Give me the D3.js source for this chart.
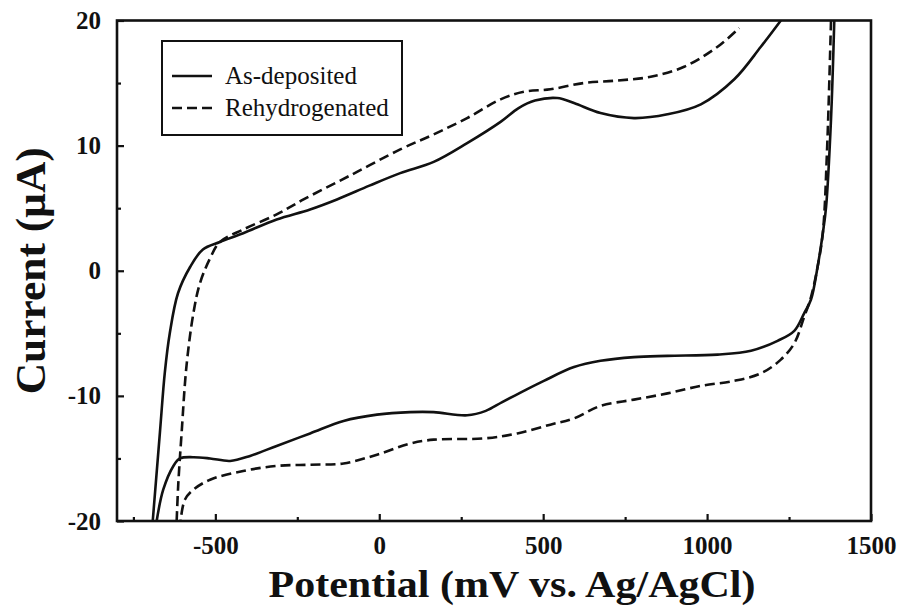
<!DOCTYPE html>
<html>
<head>
<meta charset="utf-8">
<script src="https://cdn.jsdelivr.net/npm/d3@7"></script>
<style>
  html, body { margin: 0; padding: 0; background: #fff; }
  svg { display: block; }
  text { font-family: "Liberation Serif", "Times New Roman", serif; fill: #111; }
</style>
</head>
<body>
<svg id="chart" width="901" height="606"></svg>
<script>
// Cyclic voltammograms: [potential (mV vs. Ag/AgCl), current (µA)]
const asDepositedAnodic = [
  [-691, -20], [-669, -12.9], [-654, -8.1], [-639, -5.0], [-614, -1.8], [-577, 0.3],
  [-538, 1.7], [-486, 2.3], [-415, 3.0], [-313, 4.1], [-211, 4.9], [-129, 5.7],
  [-30, 6.8], [64, 7.8], [166, 8.7], [268, 10.2], [370, 11.9], [425, 13.0], [475, 13.6],
  [543, 13.8], [594, 13.4], [675, 12.6], [777, 12.2], [879, 12.5], [981, 13.3],
  [1083, 15.3], [1164, 17.9], [1225, 20]
];
const asDepositedCathodic = [
  [1388, 20], [1378, 12.1], [1363, 5.1], [1353, 3.0], [1337, 0.3], [1317, -2.3],
  [1296, -3.4], [1266, -4.8], [1215, -5.6], [1134, -6.4], [1032, -6.7], [879, -6.8],
  [777, -6.9], [675, -7.2], [594, -7.7], [502, -8.8], [441, -9.6], [375, -10.5],
  [325, -11.2], [268, -11.55], [166, -11.3], [94, -11.3], [-7, -11.5], [-109, -12.0],
  [-211, -13.0], [-313, -14.0], [-394, -14.8], [-455, -15.2], [-516, -15.0],
  [-567, -14.9], [-608, -15.0], [-628, -15.6], [-659, -17.5], [-679, -20]
];
const rehydrogenatedAnodic = [
  [-618, -20], [-613, -17.0], [-603, -13.0], [-588, -7.6], [-567, -3.4], [-547, -1.0],
  [-516, 1.0], [-486, 2.3], [-415, 3.3], [-313, 4.5], [-231, 5.7], [-90, 7.6],
  [64, 9.7], [166, 10.9], [268, 12.2], [370, 13.7], [441, 14.3], [522, 14.5],
  [624, 15.0], [726, 15.2], [828, 15.5], [930, 16.3], [1032, 17.9], [1098, 19.4]
];
const rehydrogenatedCathodic = [
  [1378, 20], [1366, 9.7], [1353, 3.0], [1337, 0.3], [1317, -2.1], [1296, -3.7],
  [1266, -5.8], [1225, -7.1], [1164, -8.2], [1083, -8.8], [981, -9.2], [879, -9.8],
  [777, -10.3], [675, -10.8], [594, -11.8], [522, -12.3], [421, -13.0], [319, -13.4],
  [166, -13.5], [95, -13.8], [-7, -14.7], [-109, -15.4], [-211, -15.5], [-313, -15.6],
  [-415, -16.0], [-516, -16.7], [-567, -17.5], [-593, -18.3], [-606, -20]
];

const seriesNames = ["As-deposited", "Rehydrogenated"];
const xMajorTicks = [-500, 0, 500, 1000, 1500];
const xMinorTicks = [-750, -250, 250, 750, 1250];
const yMajorTicks = [-20, -10, 0, 10, 20];
const yMinorTicks = [-15, -5, 5, 15];
const xTitle = "Potential (mV vs. Ag/AgCl)";
const yTitle = "Current (\u03BCA)";

const W = 901, H = 606;
const margin = { left: 117, right: 30, top: 20.5, bottom: 85 };
const plotW = W - margin.left - margin.right;
const plotH = H - margin.top - margin.bottom;

const svg = d3.select("#chart");
const g = svg.append("g").attr("transform", `translate(${margin.left},${margin.top})`);

const x = d3.scaleLinear().domain([-800, 1500]).range([0, plotW]);
const y = d3.scaleLinear().domain([-20, 20]).range([plotH, 0]);

svg.append("defs").append("clipPath").attr("id", "plot-clip")
  .append("rect").attr("x", 0).attr("y", -1).attr("width", plotW).attr("height", plotH + 2);

// Curves
const line = d3.line()
  .x(d => x(d[0]))
  .y(d => y(d[1]))
  .curve(d3.curveCatmullRom.alpha(0.5));

const curves = g.append("g").attr("clip-path", "url(#plot-clip)");
[asDepositedAnodic, asDepositedCathodic].forEach(data => {
  curves.append("path").attr("d", line(data))
    .attr("fill", "none").attr("stroke", "#111").attr("stroke-width", 2.6)
    .attr("stroke-linejoin", "round");
});
[rehydrogenatedAnodic, rehydrogenatedCathodic].forEach(data => {
  curves.append("path").attr("d", line(data))
    .attr("fill", "none").attr("stroke", "#111").attr("stroke-width", 2.6)
    .attr("stroke-dasharray", "10,5");
});

// Axes (ticks point inward)
const tickFont = 25;
function styleAxis(sel) {
  sel.select(".domain").remove();
  sel.selectAll(".tick line").attr("stroke", "#111").attr("stroke-width", 2.2);
  sel.selectAll(".tick text")
    .attr("font-size", tickFont).attr("font-weight", "bold")
    .attr("font-family", "'Liberation Serif', 'Times New Roman', serif").attr("fill", "#111");
}

g.append("g").attr("transform", `translate(0,${plotH})`)
  .call(d3.axisBottom(x).tickValues(xMinorTicks).tickSizeInner(-4).tickSizeOuter(0).tickFormat(""))
  .call(styleAxis);
g.append("g").attr("transform", `translate(0,${plotH})`)
  .call(d3.axisBottom(x).tickValues(xMajorTicks).tickSizeInner(-7).tickSizeOuter(0)
    .tickPadding(15).tickFormat(d => String(d)))
  .call(styleAxis);

g.append("g")
  .call(d3.axisLeft(y).tickValues(yMinorTicks).tickSizeInner(-4).tickSizeOuter(0).tickFormat(""))
  .call(styleAxis);
g.append("g")
  .call(d3.axisLeft(y).tickValues(yMajorTicks).tickSizeInner(-7).tickSizeOuter(0)
    .tickPadding(16).tickFormat(d => String(d)))
  .call(styleAxis);

// Frame
g.append("rect").attr("x", 0).attr("y", 0).attr("width", plotW).attr("height", plotH)
  .attr("fill", "none").attr("stroke", "#111").attr("stroke-width", 2.6);

// Axis titles
svg.append("text")
  .attr("x", 512).attr("y", 597)
  .attr("text-anchor", "middle")
  .attr("font-size", 38).attr("font-weight", "bold")
  .attr("textLength", 487).attr("lengthAdjust", "spacingAndGlyphs")
  .text(xTitle);

svg.append("text")
  .attr("transform", `translate(45,${margin.top + y(0)}) rotate(-90)`)
  .attr("text-anchor", "middle")
  .attr("font-size", 42).attr("font-weight", "bold")
  .attr("textLength", 247).attr("lengthAdjust", "spacingAndGlyphs")
  .text(yTitle);

// Legend
const legend = svg.append("g").attr("transform", "translate(162,41)");
legend.append("rect").attr("width", 240).attr("height", 94)
  .attr("fill", "#fff").attr("stroke", "#111").attr("stroke-width", 2);
const legendRows = [
  { name: seriesNames[0], dash: null, cy: 35 },
  { name: seriesNames[1], dash: "10,5", cy: 67 }
];
legendRows.forEach(r => {
  legend.append("line").attr("x1", 10).attr("x2", 50).attr("y1", r.cy).attr("y2", r.cy)
    .attr("stroke", "#111").attr("stroke-width", 2.6)
    .attr("stroke-dasharray", r.dash);
  legend.append("text").attr("x", 63).attr("y", r.cy + 8)
    .attr("font-size", 25).text(r.name);
});
</script>
</body>
</html>
